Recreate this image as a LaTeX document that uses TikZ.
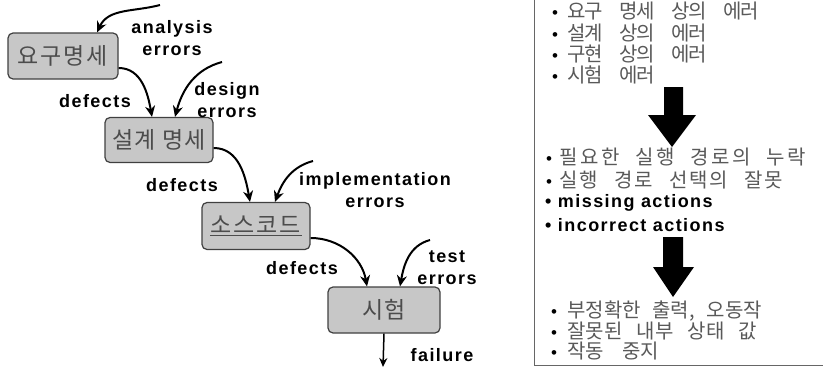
\documentclass[tikz,border=0pt]{standalone}
\usepackage{fontspec}
\setmainfont{Liberation Sans}
\newfontfamily\lab{Liberation Sans}[LetterSpace=8]
\newfontfamily\kr{Noto Sans CJK KR}
\newlength\kp \newlength\kg
\makeatletter
\def\kspread#1{\kspr@#1\relax}
\def\kspr@#1{\ifx#1\relax\else\kspr@@#1\expandafter\kspr@\fi}
\def\kspr@@#1{\ifx#1/\hspace{\kg}\else\ifx#1,\makebox[0.35\kp][l]{,}\else\makebox[\kp][c]{#1}\fi\fi}
\makeatother
\newcommand{\kl}[3]{\setlength\kp{#1}\setlength\kg{#2}\kspread{#3}}
\newcommand{\bul}[1]{\makebox[#1][l]{\color{black}\fontspec{Liberation Sans}\fontsize{17}{19}\selectfont•}}
\usetikzlibrary{arrows.meta}
\begin{document}
\begin{tikzpicture}[x=1pt,y=-1pt,
  stagebox/.style={draw=black!75, line width=1.2pt, fill=black!22, rounded corners=5pt,
    inner sep=0pt, font=\kr\fontsize{23}{24}\selectfont, text=black!70},
  flow/.style={line width=2pt, -{Stealth[length=11pt,width=10pt]}},
  lbl/.style={font=\lab\bfseries\fontsize{18}{22}\selectfont, align=center, inner sep=0pt},
  krline/.style={anchor=west, inner sep=0pt, font=\kr\fontsize{20}{21}\selectfont, text=black!65},
  enline/.style={anchor=west, inner sep=0pt, font=\lab\bfseries\fontsize{18}{19}\selectfont},
  bigarrow/.style={fill=black}]
\useasboundingbox (0,0) rectangle (823,372);
% stage boxes
\node[stagebox, minimum width=110pt, minimum height=46pt] (b1) at (63,56) {\kl{23pt}{0pt}{요구명세}};
\node[stagebox, minimum width=108pt, minimum height=45pt] (b2) at (159,140) {\kl{22pt}{6pt}{설계/명세}};
\node[stagebox, minimum width=108pt, minimum height=47pt] (b3) at (256,226) {\underline{\kl{23pt}{0pt}{소스코드}}};
\node[stagebox, minimum width=112pt, minimum height=46pt] (b4) at (384,310) {\kl{22pt}{0pt}{시험}};
% error sources
\coordinate (ae) at (160,5);
\coordinate (de) at (222,62);
\coordinate (ie) at (313,161);
\coordinate (te) at (430,240);
\coordinate (fe) at (383,367);
% connectors
\draw[flow] (ae) to[out=195,in=65] ([xshift=34pt]b1.north);
\draw[flow] ([yshift=-12pt]b1.east) to[out=0,in=100] ([xshift=-7pt]b2.north);
\draw[flow] (de) to[out=195,in=75] ([xshift=16pt]b2.north);
\draw[flow] ([yshift=-8pt]b2.east) to[out=0,in=100] ([xshift=-6pt]b3.north);
\draw[flow] (ie) to[out=195,in=70] ([xshift=19pt]b3.north);
\draw[flow] ([yshift=-12pt]b3.east) to[out=0,in=100] ([xshift=-17pt]b4.north);
\draw[flow] (te) to[out=195,in=80] ([xshift=16pt]b4.north);
\draw[line width=1.5pt, -{Stealth[length=9pt,width=8pt]}] (b4.south) -- (fe);
% labels
\node[lbl] (l1) at (172,38) {analysis\\errors};
\node[lbl] (l2) at (95,101) {defects};
\node[lbl] (l3) at (227,100) {design\\errors};
\node[lbl] (l4) at (182,185) {defects};
\node[lbl] (l5) at (375,190) {implementation\\errors};
\node[lbl] (l6) at (302,268) {defects};
\node[lbl] (l7) at (447,268) {test\\errors};
\node[lbl] (l8) at (442,355) {failure};
% right panel
\draw[black!60, line width=1pt] (534,-5) -- (534,365) -- (830,365);
\node[krline] (r1) at (552,11) {\bul{16pt}\kl{17pt}{18pt}{요구/명세/상의/에러}};
\node[krline] (r2) at (552,33) {\bul{16pt}\kl{17pt}{18pt}{설계/상의/에러}};
\node[krline] (r3) at (552,54) {\bul{16pt}\kl{17pt}{18pt}{구현/상의/에러}};
\node[krline] (r4) at (552,75) {\bul{16pt}\kl{17pt}{18pt}{시험/에러}};
\fill[bigarrow] (664,87) -- (683,87) -- (683,115) -- (696,115) -- (672,147) -- (648,115) -- (664,115) -- cycle;
\node[krline] (r5) at (546,157) {\bul{12pt}\kl{21pt}{13pt}{필요한/실행/경로의/누락}};
\node[krline] (r6) at (546,180) {\bul{12pt}\kl{20pt}{15pt}{실행/경로/선택의/잘못}};
\node[enline] (r7) at (545,203) {• missing actions};
\node[enline] (r8) at (545,225) {• incorrect actions};
\fill[bigarrow] (663,237) -- (683,237) -- (683,267) -- (694,267) -- (673,297) -- (653,267) -- (663,267) -- cycle;
\node[krline] (r9) at (551,311) {\bul{16pt}\kl{18.5pt}{11pt}{부정확한/출력,/오동작}};
\node[krline] (r10) at (551,331) {\bul{16pt}\kl{18.5pt}{14pt}{잘못된/내부/상태/값}};
\node[krline] (r11) at (551,351) {\bul{16pt}\kl{18.5pt}{18pt}{작동/중지}};
\end{tikzpicture}
\end{document}
